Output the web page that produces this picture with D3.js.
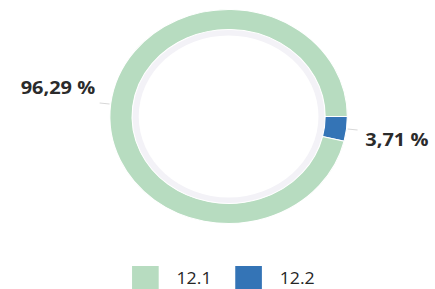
<!DOCTYPE html>
<html>
<head>
<meta charset="utf-8">
<script src="https://cdn.jsdelivr.net/npm/d3@7"></script>
<style>
    body { margin: 0; background: #fff; }
    svg { display: block; font-family: 'Open Sans', 'Noto Sans', sans-serif; }
</style>
</head>
<body>
<div id="chart"></div>
<script>
// Data
const categories = ['12.2', '12.1'];
const values = [3.71, 96.29];
const labels = ['3,71 %', '96,29 %'];
const colors = { '12.1': '#b7dcc0', '12.2': '#3474b6' };
const legendOrder = ['12.1', '12.2'];

const data = categories.map((c, i) => ({ cat: c, value: values[i], label: labels[i] }));

// The reference is a little wider than tall, so draw in a narrower space and stretch
const W = 435, H = 289;
const vw = 392;
const svg = d3.select('#chart')
    .append('svg')
    .attr('width', W)
    .attr('height', H)
    .attr('viewBox', `0 0 ${vw} ${H}`)
    .attr('preserveAspectRatio', 'none');

const cx = 206, cy = 116.5;
const outerR = 107, innerR = 87;

const g = svg.append('g').attr('transform', `translate(${cx},${cy})`);

// Faint inner track
g.append('path')
    .attr('d', d3.arc()({ innerRadius: 81, outerRadius: innerR, startAngle: 0, endAngle: 2 * Math.PI }))
    .attr('fill', '#f3f2f7');

// Pie starts at 3 o'clock
const pie = d3.pie()
    .value(d => d.value)
    .sort(null)
    .startAngle(Math.PI / 2)
    .endAngle(Math.PI / 2 + 2 * Math.PI);

const arc = d3.arc().innerRadius(innerR).outerRadius(outerR);
const arcs = pie(data);

g.selectAll('.slice')
    .data(arcs)
    .enter()
    .append('path')
    .attr('class', 'slice')
    .attr('d', arc)
    .attr('fill', d => colors[d.data.cat])
    .attr('stroke', '#fff')
    .attr('stroke-width', 1);

// Leader lines and labels
const midAngle = d => (d.startAngle + d.endAngle) / 2;
const pt = (a, r) => [r * Math.sin(a), -r * Math.cos(a)];

g.selectAll('.leader')
    .data(arcs)
    .enter()
    .append('line')
    .attr('class', 'leader')
    .attr('x1', d => pt(midAngle(d), outerR + 1)[0])
    .attr('y1', d => pt(midAngle(d), outerR + 1)[1])
    .attr('x2', d => pt(midAngle(d), outerR + 10)[0])
    .attr('y2', d => pt(midAngle(d), outerR + 10)[1])
    .attr('stroke', '#d8d8d8')
    .attr('stroke-width', 1);

g.selectAll('.pct')
    .data(arcs)
    .enter()
    .append('text')
    .attr('class', 'pct')
    .attr('x', d => {
        const p = pt(midAngle(d), outerR + 10);
        return p[0] < 0 ? p[0] - 4 : p[0] + 7;
    })
    .attr('y', d => {
        const p = pt(midAngle(d), outerR + 10);
        return p[0] < 0 ? p[1] - 9 : p[1] + 16;
    })
    .attr('text-anchor', d => pt(midAngle(d), 1)[0] < 0 ? 'end' : 'start')
    .style('font-size', '18px')
    .style('font-weight', '700')
    .style('fill', '#2b2b2b')
    .text(d => d.data.label);

// Legend
const legendX = d3.scaleBand()
    .domain(legendOrder)
    .range([119, 119 + 2 * 93]);

const legend = svg.selectAll('.legend')
    .data(legendOrder)
    .enter()
    .append('g')
    .attr('class', 'legend')
    .attr('transform', d => `translate(${legendX(d)},266)`);

legend.append('rect')
    .attr('width', 24)
    .attr('height', 24)
    .attr('fill', d => colors[d]);

legend.append('text')
    .attr('x', 40)
    .attr('y', 18)
    .style('font-size', '16px')
    .style('fill', '#262626')
    .text(d => d);
</script>
</body>
</html>
